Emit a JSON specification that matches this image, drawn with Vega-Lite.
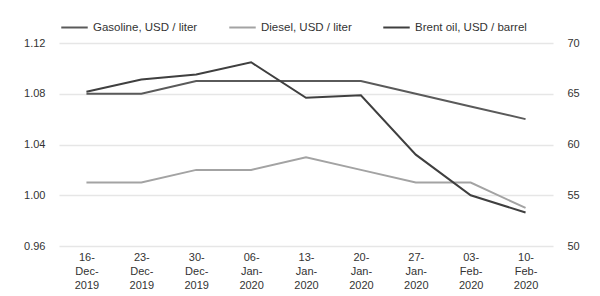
{
  "$schema": "https://vega.github.io/schema/vega-lite/v6.json",
  "autosize": "none",
  "width": 494,
  "height": 203,
  "padding": {"left": 59, "top": 43, "right": 47, "bottom": 50},
  "background": "white",
  "config": {
    "view": {"stroke": null},
    "font": "Liberation Sans",
    "axis": {"labelFont": "Liberation Sans", "labelFontSize": 11, "labelColor": "#333333", "domain": false, "ticks": false, "grid": false}
  },
  "data": {
    "values": [
      {"week": "16-Dec-2019", "series": "Gasoline, USD / liter", "value": 1.08},
      {"week": "23-Dec-2019", "series": "Gasoline, USD / liter", "value": 1.08},
      {"week": "30-Dec-2019", "series": "Gasoline, USD / liter", "value": 1.09},
      {"week": "06-Jan-2020", "series": "Gasoline, USD / liter", "value": 1.09},
      {"week": "13-Jan-2020", "series": "Gasoline, USD / liter", "value": 1.09},
      {"week": "20-Jan-2020", "series": "Gasoline, USD / liter", "value": 1.09},
      {"week": "27-Jan-2020", "series": "Gasoline, USD / liter", "value": 1.08},
      {"week": "03-Feb-2020", "series": "Gasoline, USD / liter", "value": 1.07},
      {"week": "10-Feb-2020", "series": "Gasoline, USD / liter", "value": 1.06},
      {"week": "16-Dec-2019", "series": "Diesel, USD / liter", "value": 1.01},
      {"week": "23-Dec-2019", "series": "Diesel, USD / liter", "value": 1.01},
      {"week": "30-Dec-2019", "series": "Diesel, USD / liter", "value": 1.02},
      {"week": "06-Jan-2020", "series": "Diesel, USD / liter", "value": 1.02},
      {"week": "13-Jan-2020", "series": "Diesel, USD / liter", "value": 1.03},
      {"week": "20-Jan-2020", "series": "Diesel, USD / liter", "value": 1.02},
      {"week": "27-Jan-2020", "series": "Diesel, USD / liter", "value": 1.01},
      {"week": "03-Feb-2020", "series": "Diesel, USD / liter", "value": 1.01},
      {"week": "10-Feb-2020", "series": "Diesel, USD / liter", "value": 0.99},
      {"week": "16-Dec-2019", "series": "Brent oil, USD / barrel", "value": 65.2},
      {"week": "23-Dec-2019", "series": "Brent oil, USD / barrel", "value": 66.4},
      {"week": "30-Dec-2019", "series": "Brent oil, USD / barrel", "value": 66.9},
      {"week": "06-Jan-2020", "series": "Brent oil, USD / barrel", "value": 68.1},
      {"week": "13-Jan-2020", "series": "Brent oil, USD / barrel", "value": 64.6},
      {"week": "20-Jan-2020", "series": "Brent oil, USD / barrel", "value": 64.85},
      {"week": "27-Jan-2020", "series": "Brent oil, USD / barrel", "value": 59.0},
      {"week": "03-Feb-2020", "series": "Brent oil, USD / barrel", "value": 55.0},
      {"week": "10-Feb-2020", "series": "Brent oil, USD / barrel", "value": 53.3}
    ]
  },
  "encoding": {
    "x": {
      "field": "week",
      "type": "ordinal",
      "sort": null,
      "scale": {"type": "point", "padding": 0.5},
      "axis": {
        "title": null,
        "labelAngle": 0,
        "labelPadding": 5,
        "labelLineHeight": 14,
        "labelExpr": "[split(datum.label, '-')[0] + '-', split(datum.label, '-')[1] + '-', split(datum.label, '-')[2]]"
      }
    },
    "color": {
      "field": "series",
      "type": "nominal",
      "scale": {
        "domain": ["Gasoline, USD / liter", "Diesel, USD / liter", "Brent oil, USD / barrel"],
        "range": ["#5a5a5a", "#a3a3a3", "#3f3f3f"]
      },
      "legend": {
        "title": null,
        "orient": "none",
        "direction": "horizontal",
        "legendX": 1,
        "legendY": -30,
        "symbolType": "stroke",
        "symbolStrokeWidth": 2,
        "symbolSize": 700,
        "labelFontSize": 11.5,
        "labelColor": "#333333",
        "labelOffset": 4,
        "columnPadding": 27
      }
    }
  },
  "layer": [
    {
      "transform": [{"filter": "datum.series != 'Brent oil, USD / barrel'"}],
      "mark": {"type": "line", "strokeWidth": 2},
      "encoding": {
        "y": {
          "field": "value",
          "type": "quantitative",
          "scale": {"domain": [0.96, 1.12], "nice": false, "zero": false},
          "axis": {
            "title": null,
            "values": [0.96, 1.0, 1.04, 1.08, 1.12],
            "format": ".2f",
            "grid": true,
            "gridColor": "#e6e6e6",
            "gridWidth": 1.5,
            "labelPadding": 14
          }
        }
      }
    },
    {
      "transform": [{"filter": "datum.series == 'Brent oil, USD / barrel'"}],
      "mark": {"type": "line", "strokeWidth": 2},
      "encoding": {
        "y": {
          "field": "value",
          "type": "quantitative",
          "scale": {"domain": [50, 70], "nice": false, "zero": false},
          "axis": {
            "title": null,
            "orient": "right",
            "values": [50, 55, 60, 65, 70],
            "labelPadding": 14
          }
        }
      }
    }
  ],
  "resolve": {"scale": {"y": "independent"}}
}
